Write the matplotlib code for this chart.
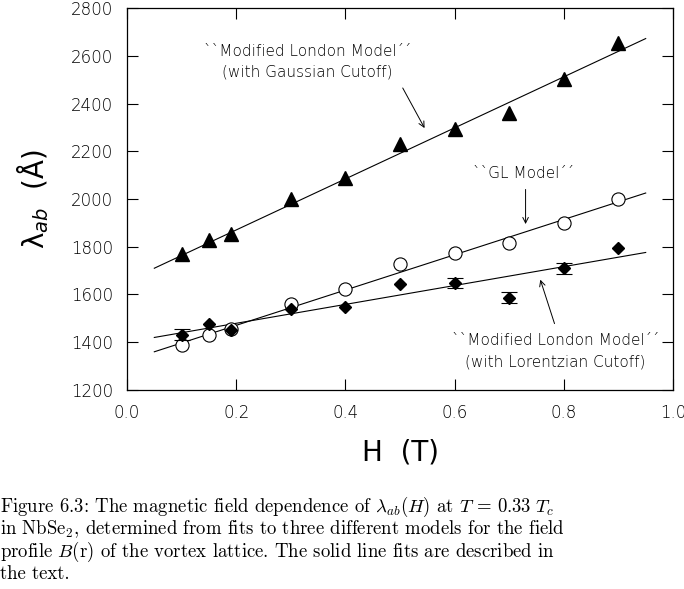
import numpy as np
import matplotlib
matplotlib.use("Agg")
import matplotlib.pyplot as plt

# lambda_ab vs H for NbSe2, three models
h = [0.1, 0.15, 0.19, 0.3, 0.4, 0.5, 0.6, 0.7, 0.8, 0.9]
lam_gauss = [1768, 1830, 1855, 1999, 2087, 2230, 2294, 2359, 2503, 2655]
lam_gl = [1387, 1432, 1454, 1562, 1625, 1726, 1772, 1817, 1898, 1998]
lam_lor = [1432, 1476, 1452, 1541, 1548, 1643, 1649, 1587, 1709, 1796]
err_lor = [22, 0, 0, 0, 0, 0, 22, 22, 24, 0]

# end points of the solid line fits
fit_h = [0.05, 0.95]
fit_gauss = [1710, 2672]
fit_gl = [1360, 2025]
fit_lor = [1420, 1776]

xticks = [0.0, 0.2, 0.4, 0.6, 0.8, 1.0]
yticks = [1200, 1400, 1600, 1800, 2000, 2200, 2400, 2600, 2800]

caption = [
    r"Figure 6.3: The magnetic field dependence of $\lambda_{ab}(H)$ at $T\,=\,0.33\ T_c$",
    r"in NbSe$_2$, determined from fits to three different models for the field",
    r"profile $B(\mathrm{r})$ of the vortex lattice. The solid line fits are described in",
    r"the text.",
]

plt.rcParams["font.family"] = ["DejaVu Sans"]
plt.rcParams["font.weight"] = "light"

fig = plt.figure(figsize=(6.84, 5.89), dpi=100)
ax = fig.add_axes([0.1857, 0.3379, 0.7982, 0.6485])

ax.plot(fit_h, fit_gauss, color="black", lw=0.8)
ax.plot(fit_h, fit_gl, color="black", lw=0.8)
ax.plot(fit_h, fit_lor, color="black", lw=0.8)

ax.plot(h, lam_gauss, "^", color="black", ms=10, ls="none")
ax.plot(h, lam_gl, "o", mfc="white", mec="black", mew=0.8, ms=9.5, ls="none")

h_e = [x for x, e in zip(h, err_lor) if e > 0]
l_e = [y for y, e in zip(lam_lor, err_lor) if e > 0]
e_e = [e for e in err_lor if e > 0]
ax.errorbar(h_e, l_e, yerr=e_e, fmt="none", ecolor="black", elinewidth=0.8, capsize=6, capthick=0.8)
ax.plot(h, lam_lor, "D", color="black", ms=6.5, ls="none")

ax.set_xlim(0, 1.0)
ax.set_ylim(1200, 2800)
ax.set_xticks(xticks)
ax.set_yticks(yticks)
ax.set_xticklabels([f"{t:.1f}" for t in xticks])
ax.tick_params(direction="in", length=8, width=0.8, top=True, right=True, labelsize=12, pad=10)
for s in ax.spines.values():
    s.set_linewidth(0.9)

ax.set_xlabel("H  (T)", fontsize=20, labelpad=12)
ax.set_ylabel(r"λ$_{ab}$  (Å)", fontsize=20, labelpad=14, math_fontfamily="dejavusans")

tkw = dict(fontsize=11, ha="center", va="center", linespacing=1.5)
arw = dict(arrowstyle="->", lw=0.7, color="black", shrinkA=0, shrinkB=0)
ax.text(0.33, 2575, "``Modified London Model´´\n(with Gaussian Cutoff)", **tkw)
ax.annotate("", xy=(0.545, 2297), xytext=(0.505, 2465), arrowprops=arw)
ax.text(0.727, 2105, "``GL Model´´", **tkw)
ax.annotate("", xy=(0.73, 1895), xytext=(0.73, 2040), arrowprops=arw)
ax.text(0.785, 1362, "``Modified London Model´´\n(with Lorentzian Cutoff)", **tkw)
ax.annotate("", xy=(0.757, 1662), xytext=(0.783, 1478), arrowprops=arw)

for i, line in enumerate(caption):
    fig.text(0.0, 1 - (507 + 22.3 * i) / 589, line, fontsize=13.5, family="cmr10",
             math_fontfamily="cm", va="center", ha="left")

fig.savefig("out.png", dpi=100)
